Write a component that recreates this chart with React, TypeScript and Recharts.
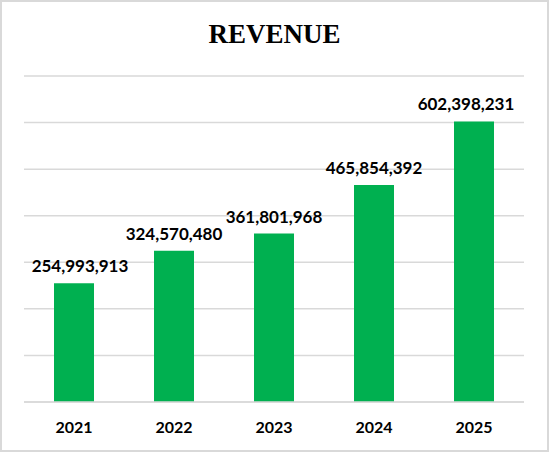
import React from "react";
import { BarChart, Bar, XAxis, YAxis, CartesianGrid } from "recharts";

const years = ["2021", "2022", "2023", "2024", "2025"];
const revenue = [254993913, 324570480, 361801968, 465854392, 602398231];
const yTicks = [0, 100000000, 200000000, 300000000, 400000000, 500000000, 600000000, 700000000];

const data = years.map((year, i) => ({ year, revenue: revenue[i] }));

const W = 549;
const H = 452;
const GRID = "#d9d9d9";
const GREEN = "#00B050";
const LABEL_FONT = "Lato, 'Open Sans', sans-serif";

const ValueLabel = (props: any) => {
  const { x, y, width, value } = props;
  let cx = Number(x) + Number(width) / 2;
  // keep labels inside the plot like the original (edge labels nudged inward)
  cx = Math.max(80, Math.min(466, cx));
  return (
    <text
      x={cx}
      y={Number(y) - 11}
      textAnchor="middle"
      fontFamily={LABEL_FONT}
      fontWeight={700}
      fontSize={17}
      fill="#000"
    >
      {Number(value).toLocaleString("en-US")}
    </text>
  );
};

export default function App() {
  return (
    <div style={{ position: "absolute", left: 0, top: 0, width: W, height: H, background: "#fff" }}>
      <svg width={W} height={60} style={{ position: "absolute", left: 0, top: 0 }}>
        <text
          x={274.5}
          y={43}
          textAnchor="middle"
          fontFamily="'Liberation Serif', 'Times New Roman', serif"
          fontWeight={700}
          fontSize={27}
          fill="#000"
        >
          REVENUE
        </text>
      </svg>
      <div style={{ position: "absolute", left: 0, top: 0 }}>
        <BarChart
          width={W}
          height={H}
          data={data}
          margin={{ top: 76, right: 25, left: 24, bottom: 20 }}
        >
          <CartesianGrid vertical={false} stroke={GRID} strokeWidth={1.5} />
          <XAxis
            dataKey="year"
            height={30}
            axisLine={{ stroke: GRID, strokeWidth: 1.5 }}
            tickLine={false}
            tickSize={6}
            tickMargin={14}
            tick={{ fontFamily: LABEL_FONT, fontWeight: 700, fontSize: 16, fill: "#000" }}
          />
          <YAxis hide domain={[0, 700000000]} ticks={yTicks} />
          <Bar
            dataKey="revenue"
            fill={GREEN}
            barSize={40}
            isAnimationActive={false}
            label={<ValueLabel />}
          />
        </BarChart>
      </div>
      <div
        style={{
          position: "absolute",
          left: 0,
          top: 0,
          width: W,
          height: H,
          boxSizing: "border-box",
          border: `2px solid ${GRID}`,
          pointerEvents: "none",
        }}
      />
    </div>
  );
}
